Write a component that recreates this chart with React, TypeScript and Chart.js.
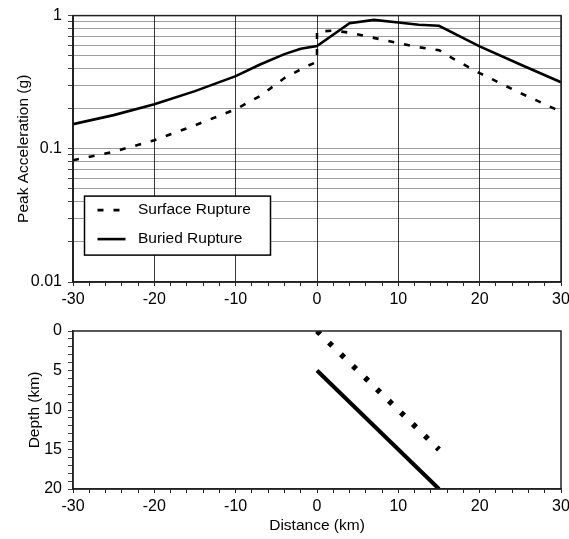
import React, { useEffect, useRef } from 'react';
import { Chart, registerables } from 'chart.js';

Chart.register(...registerables);

const FONT = '"Liberation Sans", Arial, Helvetica, sans-serif';

// Distance axis ticks (km)
const distanceLabelTicks = [-30, -20, -10, 0, 10, 20, 30];

// Peak acceleration axis (g)
const accelLabelTicks = [0.01, 0.1, 1];
const accelGridTicks = [
  0.01, 0.02, 0.03, 0.04, 0.05, 0.06, 0.07, 0.08, 0.09,
  0.1, 0.2, 0.3, 0.4, 0.5, 0.6, 0.7, 0.8, 0.9, 1,
];

// Depth axis (km)
const depthLabelTicks = [0, 5, 10, 15, 20];

const seriesLabels = ['Surface Rupture', 'Buried Rupture'];

// Surface rupture attenuation curve
const surfaceDist = [-30, -25, -20, -15, -10, -7, -4, -1.5, 0, 0, 2, 4, 8, 12, 15, 17, 20, 25, 30];
const surfaceAccel = [0.082, 0.095, 0.116, 0.15, 0.198, 0.249, 0.34, 0.41, 0.45, 0.76, 0.77, 0.745, 0.66, 0.585, 0.55, 0.465, 0.37, 0.262, 0.19];

// Buried rupture attenuation curve
const buriedDist = [-30, -25, -20, -15, -10, -7, -4, -2, 0, 4, 7, 10, 12.5, 15, 20, 25, 30];
const buriedAccel = [0.153, 0.179, 0.216, 0.271, 0.351, 0.429, 0.514, 0.564, 0.59, 0.877, 0.929, 0.887, 0.853, 0.838, 0.587, 0.429, 0.316];

// Fault geometry (cross-section)
const surfaceFaultDist = [0, 15];
const surfaceFaultDepth = [0, 15];
const buriedFaultDist = [0, 15];
const buriedFaultDepth = [5, 20];

const toPoints = (xs: number[], ys: number[]) => xs.map((x, i) => ({ x, y: ys[i] }));

const framePlugin = {
  id: 'frame',
  afterDraw(chart: any) {
    const { ctx, chartArea } = chart;
    ctx.save();
    ctx.strokeStyle = '#222';
    ctx.lineWidth = 1.5;
    ctx.strokeRect(chartArea.left, chartArea.top, chartArea.right - chartArea.left, chartArea.bottom - chartArea.top);
    ctx.restore();
  },
};

const insideLegendPlugin = {
  id: 'insideLegend',
  afterDraw(chart: any) {
    const { ctx, chartArea } = chart;
    const bx = chartArea.left + 11.5;
    const by = chartArea.top + 180.5;
    const bw = 186;
    const bh = 59;
    ctx.save();
    ctx.fillStyle = '#fff';
    ctx.fillRect(bx, by, bw, bh);
    ctx.strokeStyle = '#000';
    ctx.lineWidth = 1.5;
    ctx.strokeRect(bx, by, bw, bh);
    chart.data.datasets.forEach((ds: any, i: number) => {
      const y = by + 14 + i * 29;
      ctx.beginPath();
      ctx.setLineDash(ds.borderDash || []);
      ctx.lineWidth = ds.borderWidth;
      ctx.strokeStyle = ds.borderColor;
      ctx.moveTo(bx + 13, y);
      ctx.lineTo(bx + (i === 0 ? 36 : 41), y);
      ctx.stroke();
      ctx.setLineDash([]);
      ctx.fillStyle = '#000';
      ctx.font = `15.5px ${FONT}`;
      ctx.textBaseline = 'middle';
      ctx.textAlign = 'left';
      ctx.fillText(ds.label, bx + 53.5, y - 0.8);
    });
    ctx.restore();
  },
};

export default function App() {
  const topRef = useRef<HTMLCanvasElement>(null);
  const botRef = useRef<HTMLCanvasElement>(null);

  useEffect(() => {
    Chart.defaults.color = '#000';
    Chart.defaults.font.family = FONT;

    const xAxisCommon = (titleOn: boolean, height: number) => ({
      type: 'linear' as const,
      min: -30,
      max: 30,
      ticks: {
        stepSize: 2,
        autoSkip: false,
        maxRotation: 0,
        padding: 4,
        color: '#000',
        font: { family: FONT, size: 16 },
        callback: (v: any) => (distanceLabelTicks.includes(Number(v)) ? String(v) : ''),
      },
      border: { display: true, color: '#222', width: 1.5 },
      title: {
        display: titleOn,
        text: 'Distance (km)',
        color: '#000',
        font: { family: FONT, size: 15.5 },
        padding: { top: 0, bottom: 4.4 },
      },
      afterFit: (s: any) => {
        s.height = height;
        s.paddingLeft = 0;
        s.paddingRight = 0;
      },
    });

    const topChart = new Chart(topRef.current as HTMLCanvasElement, {
      type: 'line',
      data: {
        datasets: [
          {
            label: seriesLabels[0],
            data: toPoints(surfaceDist, surfaceAccel),
            borderColor: '#000',
            borderWidth: 2.6,
            borderDash: [6, 10],
            pointRadius: 0,
            fill: false,
            tension: 0,
          },
          {
            label: seriesLabels[1],
            data: toPoints(buriedDist, buriedAccel),
            borderColor: '#000',
            borderWidth: 2.6,
            pointRadius: 0,
            fill: false,
            tension: 0,
          },
        ],
      },
      options: {
        animation: false,
        responsive: false,
        events: [],
        layout: { padding: { left: 0, right: 8, top: 14, bottom: 0 } },
        plugins: { legend: { display: false }, tooltip: { enabled: false } },
        scales: {
          x: {
            ...xAxisCommon(false, 28),
            grid: {
              color: (c: any) => (c.tick && distanceLabelTicks.includes(c.tick.value) ? '#3a3a3a' : 'rgba(0,0,0,0)'),
              tickColor: '#222',
              tickLength: 4,
              lineWidth: 1,
            },
          } as any,
          y: {
            type: 'logarithmic',
            min: 0.01,
            max: 1,
            afterBuildTicks: (s: any) => {
              s.ticks = accelGridTicks.map((v) => ({ value: v }));
            },
            ticks: {
              autoSkip: false,
              padding: 6,
              color: '#000',
              font: { family: FONT, size: 16 },
              callback: (v: any) => (accelLabelTicks.includes(Number(v)) ? String(v) : ''),
            },
            grid: {
              color: 'rgba(0,0,0,0.38)',
              tickColor: '#444',
              tickLength: 5,
              lineWidth: 1,
            },
            border: { display: true, color: '#222', width: 1.5 },
            title: {
              display: true,
              text: 'Peak Acceleration (g)',
              color: '#000',
              font: { family: FONT, size: 15.5 },
              padding: { top: 14, bottom: 0 },
            },
            afterFit: (s: any) => {
              s.width = 73;
            },
          } as any,
        },
      },
      plugins: [framePlugin, insideLegendPlugin],
    });

    const botChart = new Chart(botRef.current as HTMLCanvasElement, {
      type: 'line',
      data: {
        datasets: [
          {
            label: seriesLabels[0],
            data: toPoints(surfaceFaultDist, surfaceFaultDepth),
            borderColor: '#000',
            borderWidth: 5.5,
            borderDash: [4.5, 12.2],
            pointRadius: 0,
            fill: false,
          },
          {
            label: seriesLabels[1],
            data: toPoints(buriedFaultDist, buriedFaultDepth),
            borderColor: '#000',
            borderWidth: 4,
            pointRadius: 0,
            fill: false,
          },
        ],
      },
      options: {
        animation: false,
        responsive: false,
        events: [],
        layout: { padding: { left: 0, right: 8, top: 21, bottom: 0 } },
        plugins: { legend: { display: false }, tooltip: { enabled: false } },
        scales: {
          x: {
            ...xAxisCommon(true, 50),
            grid: {
              drawOnChartArea: false,
              tickColor: '#222',
              tickLength: 4,
              lineWidth: 1,
            },
          } as any,
          y: {
            type: 'linear',
            min: 0,
            max: 20,
            reverse: true,
            ticks: {
              stepSize: 1,
              autoSkip: false,
              padding: 6,
              color: '#000',
              font: { family: FONT, size: 16 },
              callback: (v: any) => (depthLabelTicks.includes(Number(v)) ? String(v) : ''),
            },
            grid: {
              drawOnChartArea: false,
              tickColor: '#444',
              tickLength: 5,
              lineWidth: 1,
            },
            border: { display: true, color: '#222', width: 1.5 },
            title: {
              display: true,
              text: 'Depth (km)',
              color: '#000',
              font: { family: FONT, size: 15.5 },
              padding: { top: 25.5, bottom: 0 },
            },
            afterFit: (s: any) => {
              s.width = 73;
            },
          } as any,
        },
      },
      plugins: [framePlugin],
    });

    return () => {
      topChart.destroy();
      botChart.destroy();
    };
  }, []);

  return (
    <div style={{ position: 'absolute', left: 0, top: 0, width: 569, height: 539, background: '#fff' }}>
      <canvas
        ref={topRef}
        width={569}
        height={310}
        style={{ position: 'absolute', left: 0, top: 0, width: 569, height: 310 }}
      />
      <canvas
        ref={botRef}
        width={569}
        height={229}
        style={{ position: 'absolute', left: 0, top: 310, width: 569, height: 229 }}
      />
    </div>
  );
}
